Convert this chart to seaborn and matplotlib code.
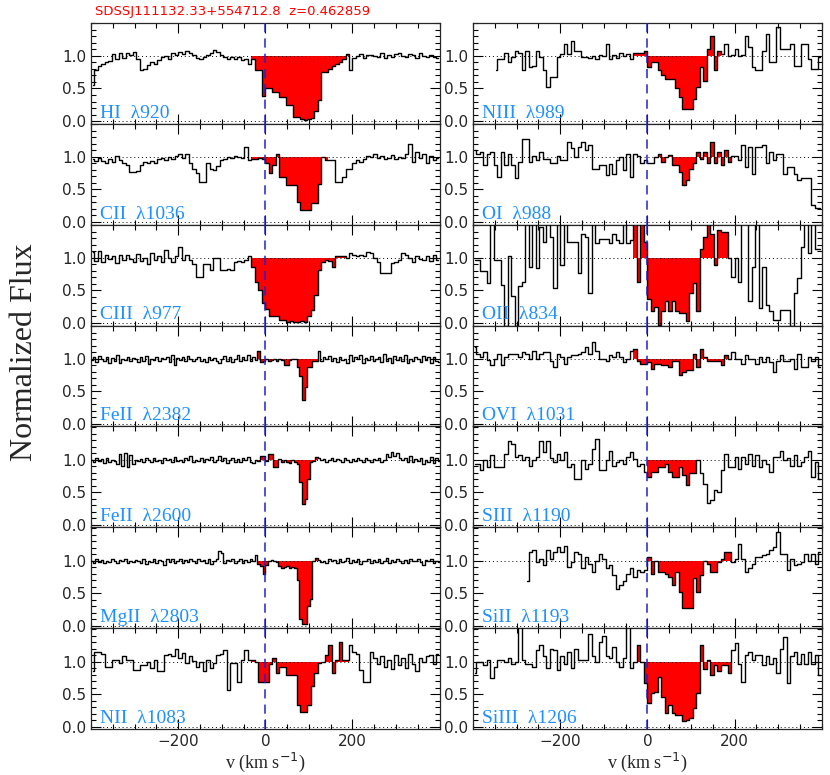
import numpy as np
import seaborn as sns
import matplotlib
matplotlib.use('Agg')
import matplotlib.pyplot as plt
from matplotlib.ticker import FixedLocator, MultipleLocator, FormatStrFormatter

nan = np.nan

title = 'SDSSJ111132.33+554712.8  z=0.462859'

# bin centres in km/s: COS-like grid (8 km/s) and finer grid (6 km/s)
v_cos = np.arange(-396, 400, 8)
v_fine = np.arange(-399, 400, 6)

hi_920 = [0.55, 0.78, 0.85, 0.88, 0.90, 0.92, 1.03, 0.95, 1.04, 0.97,
          1.05, 1.02, 1.06, 0.95, 0.78, 0.80, 0.86, 0.90, 0.88, 0.93,
          0.98, 1.00, 0.96, 1.04, 1.02, 1.06, 1.03, 1.08, 1.05, 1.02,
          0.97, 0.95, 0.99, 1.01, 1.04, 1.09, 1.06, 1.02, 0.98, 0.96,
          0.99, 0.95, 0.98, 0.93, 0.95, 0.88, 0.95, 0.78, 0.78, 0.39,
          0.51, 0.51, 0.44, 0.44, 0.37, 0.37, 0.24, 0.24, 0.06, 0.06,
          0.03, 0.02, 0.03, 0.05, 0.16, 0.32, 0.75, 0.75, 0.80, 0.85,
          0.87, 0.90, 0.95, 1.03, 0.78, 0.97, 1.00, 1.03, 0.97, 1.02,
          1.02, 1.00, 0.98, 1.04, 0.97, 1.02, 0.99, 1.03, 1.05, 1.00,
          0.98, 1.03, 1.01, 0.97, 1.04, 1.00, 0.98, 1.02, 0.99, 0.97]

cii_1036 = [0.96, 0.93, 0.98, 0.94, 0.90, 0.97, 0.92, 1.02, 0.95, 0.90,
            0.88, 0.77, 0.77, 0.78, 0.88, 0.92, 0.90, 0.93, 0.90, 0.96,
            0.98, 0.95, 1.00, 0.97, 1.02, 1.05, 0.99, 1.04, 0.90, 0.82,
            0.75, 0.62, 0.62, 0.90, 0.82, 0.80, 0.86, 0.95, 0.97, 1.00,
            0.98, 1.01, 1.00, 0.99, 1.15, 0.95, 0.97, 0.97, 0.98, 0.97,
            0.90, 0.75, 0.87, 1.05, 0.69, 0.69, 0.57, 0.57, 0.57, 0.31,
            0.19, 0.19, 0.19, 0.29, 0.29, 0.59, 1.00, 0.95, 0.95, 0.95,
            0.62, 0.62, 0.69, 0.82, 0.82, 0.90, 0.95, 0.92, 0.97, 1.02,
            1.00, 1.04, 0.98, 1.01, 0.97, 0.99, 1.03, 0.96, 1.00, 0.98,
            1.05, 1.20, 0.92, 1.08, 0.98, 1.05, 0.90, 1.02, 0.95, 0.98]

ciii_977 = [1.09, 0.95, 1.10, 0.93, 1.05, 0.98, 1.02, 0.92, 1.04, 0.96,
            1.05, 0.98, 0.93, 1.06, 0.95, 1.00, 0.90, 1.08, 0.97, 1.02,
            0.94, 1.12, 0.99, 0.93, 1.03, 1.17, 0.97, 1.05, 0.96, 0.90,
            0.71, 0.71, 0.91, 0.91, 0.81, 0.99, 0.99, 0.81, 0.81, 0.83,
            0.81, 0.94, 0.95, 0.93, 0.96, 1.03, 0.86, 0.63, 0.50, 0.30,
            0.22, 0.11, 0.11, 0.11, 0.05, 0.05, 0.02, 0.03, 0.01, 0.02,
            0.03, 0.02, 0.10, 0.20, 0.43, 0.81, 0.94, 0.96, 0.95, 0.86,
            1.03, 1.02, 1.03, 0.99, 1.07, 1.04, 1.02, 1.05, 1.03, 1.09,
            1.07, 1.00, 0.94, 0.76, 0.76, 0.76, 0.92, 0.94, 0.96, 1.07,
            1.05, 1.00, 0.94, 1.03, 0.98, 0.96, 1.02, 0.95, 1.05, 0.97]

feii_2382 = [0.98, 1.02, 0.95, 1.04, 0.99, 0.96, 1.03, 0.94, 1.01, 0.97,
             1.05, 0.93, 1.00, 0.98, 1.03, 0.96, 1.01, 0.99, 0.95, 1.02,
             0.97, 1.04, 0.92, 1.00, 0.98, 1.02, 0.96, 1.01, 0.99, 1.03,
             0.95, 1.06, 0.90, 1.01, 0.98, 1.02, 0.97, 1.04, 0.99, 0.96,
             1.00, 1.02, 0.97, 0.99, 0.95, 1.03, 0.98, 1.01, 0.96, 0.93,
             1.00, 1.04, 0.97, 1.02, 0.95, 0.99, 1.05, 0.96, 1.02, 0.98,
             1.06, 0.97, 1.03, 0.98, 1.12, 0.95, 0.96, 0.99, 0.97, 0.98,
             1.00, 0.96, 0.99, 0.98, 0.90, 0.90, 0.98, 1.00, 0.99, 0.87,
             0.74, 0.36, 0.57, 0.87, 0.87, 0.97, 0.97, 1.12, 0.96, 1.02,
             0.99, 1.04, 0.97, 1.01, 0.95, 1.03, 0.98, 1.00, 0.94, 1.05,
             0.97, 1.02, 0.99, 1.06, 0.93, 1.01, 0.98, 1.04, 0.96, 1.00,
             1.03, 0.95, 1.08, 0.97, 1.01, 0.93, 1.04, 0.98, 1.02, 0.96,
             1.05, 0.94, 1.00, 0.97, 1.03, 0.99, 0.95, 1.04, 0.98, 1.02,
             0.94, 1.03, 0.97, 0.95]

feii_2600 = [0.99, 0.96, 1.03, 0.98, 1.01, 0.95, 1.02, 0.97, 1.00, 0.98,
             0.94, 1.08, 0.90, 1.10, 0.89, 1.07, 0.94, 1.00, 0.98, 1.01,
             0.97, 1.03, 0.99, 0.96, 1.02, 0.98, 1.00, 0.95, 1.03, 0.99,
             1.01, 0.97, 1.04, 0.98, 1.00, 0.96, 1.02, 0.99, 1.05, 0.97,
             1.00, 0.98, 1.03, 0.96, 1.01, 0.99, 1.04, 0.97, 1.00, 1.06,
             0.98, 1.02, 0.95, 1.00, 1.03, 0.97, 1.01, 0.96, 1.02, 0.99,
             1.04, 0.97, 0.95, 1.00, 0.98, 1.06, 1.06, 0.98, 1.09, 1.09,
             0.88, 0.88, 1.01, 0.97, 0.99, 0.96, 0.95, 0.99, 0.97, 0.94,
             0.65, 0.32, 0.40, 0.70, 0.96, 0.98, 1.04, 1.02, 0.99, 1.01,
             0.97, 1.00, 1.03, 0.98, 1.01, 0.99, 0.96, 1.02, 1.00, 0.97,
             1.01, 0.98, 1.03, 0.99, 0.96, 1.02, 1.00, 0.97, 1.01, 0.99,
             1.02, 0.96, 1.00, 1.08, 1.04, 1.12, 1.06, 1.10, 1.03, 0.99,
             1.02, 0.97, 1.05, 0.96, 1.01, 0.98, 1.03, 0.94, 1.00, 0.97,
             1.04, 0.95, 1.02, 0.98]

mgii_2803 = [1.00, 0.97, 1.02, 0.98, 1.01, 0.96, 1.00, 0.98, 1.02, 0.99,
             0.97, 1.01, 0.99, 1.02, 0.96, 1.00, 0.98, 1.01, 0.99, 0.97,
             1.02, 0.95, 1.00, 0.98, 1.03, 0.97, 1.01, 0.99, 0.94, 1.02,
             0.98, 1.03, 0.96, 1.00, 1.02, 0.97, 1.01, 0.98, 1.03, 0.99,
             0.96, 1.02, 0.99, 1.01, 0.97, 1.03, 0.95, 1.00, 1.02, 1.14,
             1.12, 0.97, 1.01, 0.99, 1.03, 0.97, 1.00, 1.02, 0.96, 1.01,
             0.98, 1.03, 0.99, 1.08, 0.95, 0.92, 0.80, 0.94, 1.00, 1.01,
             0.99, 0.98, 0.92, 0.89, 0.90, 0.91, 0.89, 0.90, 0.88, 0.70,
             0.11, 0.02, 0.02, 0.31, 0.41, 0.99, 1.04, 1.01, 0.98, 1.00,
             0.97, 1.02, 0.99, 1.01, 0.96, 1.03, 0.98, 1.00, 1.04, 0.97,
             1.01, 0.98, 1.02, 0.95, 1.00, 0.99, 1.03, 0.97, 1.01, 0.98,
             1.02, 0.97, 1.00, 1.04, 0.96, 1.01, 0.98, 1.03, 0.99, 0.96,
             1.01, 0.97, 1.02, 0.99, 1.00, 1.03, 0.98, 0.93, 1.01, 0.99,
             1.02, 0.97, 1.00, 0.98]

nii_1083 = [0.85, 1.14, 1.14, 1.12, 0.92, 0.92, 1.03, 1.03, 0.98, 1.08,
            1.03, 1.03, 0.87, 0.87, 0.94, 0.95, 1.00, 0.90, 1.02, 0.86,
            0.86, 1.10, 1.11, 1.09, 1.20, 1.05, 1.13, 0.98, 1.08, 1.01,
            0.92, 1.00, 0.85, 1.03, 0.90, 0.98, 1.10, 1.12, 1.18, 0.57,
            0.98, 0.98, 0.69, 1.02, 1.18, 1.02, 1.02, 0.99, 0.69, 0.68,
            0.68, 0.97, 1.05, 0.82, 0.92, 0.92, 0.80, 0.80, 0.80, 0.34,
            0.23, 0.23, 0.34, 0.62, 0.82, 0.98, 1.00, 1.10, 1.25, 0.82,
            1.02, 1.30, 1.02, 1.02, 1.25, 1.14, 1.12, 0.87, 0.69, 0.69,
            1.15, 1.05, 0.96, 1.08, 0.92, 1.03, 0.88, 1.10, 0.95, 1.06,
            0.90, 1.12, 0.97, 0.85, 1.05, 0.99, 1.08, 1.10, 0.97, 1.12]

niii_989 = [nan, nan, nan, nan, nan, nan, 0.78, 0.95, 0.95, 1.04,
            0.90, 0.98, 1.08, 1.05, 0.78, 1.08, 0.83, 0.85, 1.08, 0.98,
            0.78, 0.52, 0.67, 0.67, 0.98, 1.03, 1.18, 1.03, 1.23, 1.08,
            1.08, 0.98, 0.98, 0.97, 1.00, 0.95, 1.02, 1.00, 1.18, 0.95,
            1.02, 0.97, 1.04, 1.00, 1.03, 0.95, 1.05, 1.05, 1.05, 1.07,
            0.83, 0.90, 0.90, 0.78, 0.70, 0.65, 0.65, 0.65, 0.50, 0.37,
            0.19, 0.18, 0.19, 0.34, 0.52, 0.83, 0.62, 1.10, 1.31, 0.78,
            1.08, 1.03, 1.18, 1.00, 1.02, 1.10, 1.00, 1.02, 1.31, 1.13,
            0.83, 0.78, 0.78, 1.08, 1.34, 0.90, 0.90, 1.44, 1.10, 1.10,
            1.10, 1.18, 0.85, 0.85, 1.18, 1.18, 0.95, 0.80, 0.80, 0.98]

oi_988 = [1.10, 1.05, 1.07, 0.87, 1.05, 1.07, 0.87, 0.69, 1.07, 0.87,
          1.05, 0.87, 0.67, 0.92, 1.28, 1.28, 0.92, 1.02, 0.95, 1.07,
          0.97, 0.97, 0.90, 0.90, 1.02, 0.95, 0.95, 1.23, 1.13, 1.00,
          1.15, 1.23, 1.10, 1.18, 0.82, 0.82, 0.87, 0.87, 0.72, 0.89,
          0.74, 0.95, 1.00, 0.80, 1.05, 0.69, 1.05, 1.02, 0.90, 0.95,
          0.90, 0.90, 1.00, 1.05, 0.92, 1.00, 1.03, 0.87, 0.87, 0.77,
          0.57, 0.64, 0.82, 0.90, 1.08, 0.97, 1.08, 0.90, 1.23, 0.90,
          1.08, 0.87, 1.10, 0.92, 1.02, 1.02, 0.95, 1.18, 0.85, 1.15,
          0.74, 1.15, 1.15, 1.18, 0.90, 1.07, 0.95, 1.05, 1.05, 0.74,
          0.84, 0.84, 0.74, 0.64, 0.67, 0.67, 0.67, 0.26, 0.21, 0.21]

oii_834 = [0.96, 0.97, 0.80, 0.80, 0.61, 1.80, 0.96, 0.96, 0.58, -0.05,
           1.02, 0.41, -0.05, 0.56, 0.63, 1.80, 0.86, 1.80, 0.84, 1.47,
           1.24, 1.80, 1.32, 0.53, 1.80, 0.89, 1.80, 1.24, 1.24, 1.24,
           0.76, 1.37, 1.32, 0.46, 1.80, 1.22, 1.29, 1.29, 1.29, 1.22,
           1.37, 1.27, 1.22, 1.80, 1.22, 1.27, 1.80, 0.63, 1.80, 1.24,
           0.36, 0.18, 0.25, -0.03, 0.18, 0.33, 0.18, 0.33, 0.18, 0.15,
           0.15, 0.03, 0.46, 0.61, 0.18, 1.14, 1.32, 1.80, 1.37, 0.89,
           1.42, 1.40, 1.40, 1.00, 0.71, 1.00, 0.63, 1.80, 1.80, 0.33,
           0.86, 1.80, 0.23, 0.86, 0.28, 0.18, 0.05, 0.05, 0.20, 0.20,
           0.20, -0.05, 0.46, 0.69, 1.17, 1.80, 1.07, 1.80, 1.14, 1.14]

ovi_1031 = [1.18, 1.07, 1.02, 1.10, 0.98, 0.90, 0.99, 1.07, 0.90, 1.02,
            1.08, 1.08, 1.07, 1.02, 1.10, 1.07, 0.99, 1.12, 0.99, 1.07,
            1.10, 1.10, 0.97, 0.87, 1.07, 1.02, 0.92, 1.02, 1.05, 1.05,
            1.07, 1.10, 1.18, 1.07, 1.25, 1.12, 1.00, 1.00, 0.97, 1.05,
            1.02, 1.10, 1.02, 0.95, 1.00, 1.12, 1.15, 0.97, 0.92, 0.92,
            0.95, 0.85, 0.92, 0.92, 0.90, 0.90, 0.88, 0.97, 0.97, 0.75,
            0.80, 0.82, 0.82, 1.08, 0.87, 1.15, 1.02, 0.97, 0.97, 0.97,
            0.97, 0.90, 1.05, 1.00, 1.10, 1.00, 1.00, 0.92, 1.05, 1.00,
            1.00, 0.92, 1.02, 0.95, 1.02, 0.95, 0.80, 0.97, 1.05, 0.97,
            0.97, 1.00, 0.85, 1.07, 0.87, 0.87, 1.02, 0.97, 1.02, 0.87]

siii_1190 = [0.94, 0.94, 0.84, 0.99, 0.89, 1.07, 0.89, 0.89, 0.89, 1.09,
             1.29, 1.24, 1.04, 1.07, 0.99, 1.04, 0.91, 0.99, 1.04, 1.29,
             1.12, 1.29, 1.02, 0.96, 1.09, 0.99, 1.12, 0.89, 0.94, 0.71,
             0.71, 0.99, 0.86, 0.94, 1.17, 1.32, 0.84, 0.84, 0.99, 1.14,
             0.91, 0.96, 0.99, 0.94, 1.04, 1.12, 1.01, 0.91, 0.94, 0.81,
             0.74, 0.81, 0.81, 0.89, 0.89, 0.94, 0.81, 0.74, 0.74, 0.89,
             0.76, 0.61, 0.79, 0.79, 1.00, 0.79, 0.63, 0.33, 0.38, 0.53,
             0.51, 0.84, 1.09, 0.89, 0.89, 1.04, 0.86, 1.04, 0.94, 1.09,
             0.91, 1.07, 0.89, 0.99, 0.94, 0.81, 1.04, 1.04, 1.14, 0.99,
             1.02, 0.91, 1.07, 0.91, 0.96, 1.04, 1.14, 0.74, 0.96, 0.71]

siii_1193 = [nan, nan, nan, nan, nan, nan, nan, nan, nan, nan,
             nan, nan, nan, nan, nan, 0.68, 1.13, 1.16, 0.98, 1.03,
             0.93, 1.16, 1.03, 1.13, 1.21, 1.13, 1.23, 0.90, 0.98, 1.13,
             1.10, 0.88, 1.06, 0.95, 0.83, 1.00, 1.10, 1.03, 0.88, 0.93,
             0.78, 0.57, 0.62, 0.68, 0.80, 0.88, 0.75, 0.85, 0.83, 0.86,
             1.05, 0.80, 1.00, 0.83, 0.83, 0.80, 0.75, 0.62, 0.83, 0.52,
             0.27, 0.27, 0.27, 0.73, 0.52, 0.78, 1.00, 0.95, 0.83, 0.83,
             0.98, 1.03, 1.13, 1.13, 0.98, 1.03, 1.26, 1.03, 0.83, 0.88,
             0.95, 1.06, 1.06, 1.08, 1.10, 1.16, 1.21, 1.44, 1.10, 1.10,
             0.85, 1.03, 0.93, 0.95, 0.98, 1.10, 1.00, 1.10, 0.95, 1.13]

siiii_1206 = [0.82, 1.00, 1.00, 0.95, 1.03, 0.75, 0.92, 1.03, 1.03, 1.00,
              1.05, 0.97, 1.00, 1.60, 1.03, 0.97, 0.97, 0.92, 1.18, 1.25,
              1.08, 0.90, 1.20, 1.18, 0.87, 1.08, 0.97, 1.15, 0.90, 1.20,
              1.03, 1.03, 1.03, 1.43, 1.08, 1.00, 1.30, 1.40, 1.08, 1.05,
              1.23, 1.00, 0.92, 1.05, 1.60, 0.90, 1.00, 1.25, 1.00, 0.67,
              0.36, 0.52, 0.54, 0.77, 0.46, 0.21, 0.34, 0.21, 0.18, 0.18,
              0.08, 0.10, 0.13, 0.29, 0.52, 1.25, 0.88, 1.03, 0.80, 0.95,
              0.85, 0.95, 0.95, 0.82, 1.18, 1.28, 0.97, 0.69, 1.10, 1.15,
              1.03, 1.10, 1.10, 0.95, 1.08, 0.97, 1.05, 0.82, 1.20, 1.38,
              0.67, 1.08, 1.15, 0.97, 1.12, 0.97, 1.15, 0.97, 1.10, 0.80]

# (label, grid, flux, integration window in km/s)
left_panels = [
    ('HI  \u03bb920', v_cos, hi_920, (-32, 190)),
    ('CII  \u03bb1036', v_cos, cii_1036, (-30, 140)),
    ('CIII  \u03bb977', v_cos, ciii_977, (-31, 195)),
    ('FeII  \u03bb2382', v_fine, feii_2382, (-16, 120)),
    ('FeII  \u03bb2600', v_fine, feii_2600, (-16, 121)),
    ('MgII  \u03bb2803', v_fine, mgii_2803, (-16, 121)),
    ('NII  \u03bb1083', v_cos, nii_1083, (-35, 190)),
]
right_panels = [
    ('NIII  \u03bb989', v_cos, niii_989, (-34, 165)),
    ('OI  \u03bb988', v_cos, oi_988, (18, 192)),
    ('OII  \u03bb834', v_cos, oii_834, (-34, 192)),
    ('OVI  \u03bb1031', v_cos, ovi_1031, (-34, 185)),
    ('SIII  \u03bb1190', v_cos, siii_1190, (4, 116)),
    ('SiII  \u03bb1193', v_cos, siii_1193, (0, 192)),
    ('SiIII  \u03bb1206', v_cos, siiii_1206, (-29, 191)),
]

sns.set_style('ticks')
plt.rcParams['font.family'] = ['DejaVu Sans']
plt.rcParams['axes.linewidth'] = 0.9
serif = ['Liberation Serif', 'DejaVu Serif']

fig, axes = plt.subplots(7, 2, figsize=(8.3, 7.75), dpi=100, sharex=True,
                         gridspec_kw=dict(left=0.1096, right=0.990, top=0.9707,
                                          bottom=0.059, hspace=0, wspace=0.0956))


def draw_panel(ax, label, v, flux, win):
    flux = np.asarray(flux, dtype=float)
    dv = v[1] - v[0]
    sel = (v >= win[0]) & (v <= win[1])
    xs = np.append(v[sel] - dv / 2, v[sel][-1] + dv / 2)
    ys = np.append(flux[sel], flux[sel][-1])
    ax.fill_between(xs, ys, 1.0, step='post', color='red', lw=0, zorder=1)
    ok = ~np.isnan(flux)
    sns.lineplot(x=v[ok], y=flux[ok], drawstyle='steps-mid', color='black',
                 lw=1.0, estimator=None, ax=ax, zorder=3)
    ax.axhline(1.0, color='black', ls=(0, (1, 3)), lw=0.7, zorder=2)
    ax.axhline(0.0, color='black', ls=(0, (1, 3)), lw=0.7, zorder=2)
    ax.axvline(0.0, color='#2222cc', ls=(0, (6, 4)), lw=1.1, zorder=4)
    ax.text(0.026, 0.06, label, transform=ax.transAxes, color='#1e90ff',
            fontsize=14, family=serif)
    ax.set_xlim(-400, 400)
    ax.set_ylim(-0.04, 1.51)
    ax.xaxis.set_major_locator(FixedLocator([-200, 0, 200]))
    ax.xaxis.set_minor_locator(MultipleLocator(50))
    ax.yaxis.set_major_locator(FixedLocator([0.0, 0.5, 1.0]))
    ax.yaxis.set_minor_locator(MultipleLocator(0.1))
    ax.yaxis.set_major_formatter(FormatStrFormatter('%.1f'))
    ax.tick_params(which='both', direction='in', top=True, right=True,
                   color='black', labelsize=11, width=0.8)
    ax.tick_params(which='major', length=7)
    ax.tick_params(which='minor', length=3.5)
    ax.set_ylabel('')
    ax.set_xlabel('')


for col, panels in enumerate([left_panels, right_panels]):
    for row, (label, v, flux, win) in enumerate(panels):
        draw_panel(axes[row, col], label, v, flux, win)

for ax in axes[-1]:
    ax.set_xlabel('v (km s$^{-1}$)', fontsize=13, labelpad=1, family=serif)

fig.text(0.030, 1 - 352 / 775, 'Normalized Flux', rotation=90, va='center',
         ha='center', fontsize=23, family=serif)
fig.text(95 / 830, 1 - 11 / 775, title, color='red', fontsize=9.5, va='center')

fig.savefig('out.png', dpi=100)
